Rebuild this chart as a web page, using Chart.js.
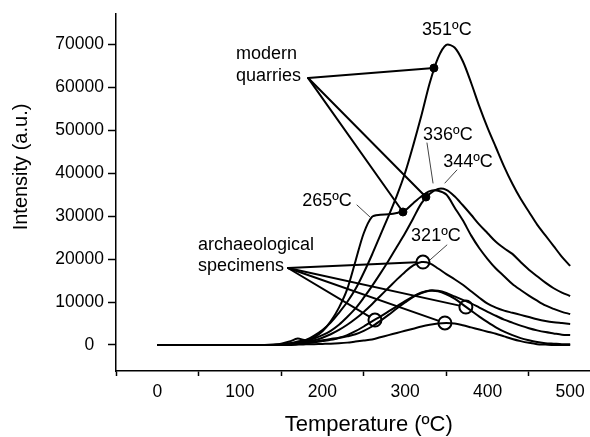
<!DOCTYPE html>
<html><head><meta charset="utf-8">
<script src="https://cdn.jsdelivr.net/npm/chart.js@4.4.1/dist/chart.umd.min.js"></script>
<style>html,body{margin:0;padding:0;background:#fff}canvas{display:block}</style>
</head><body>
<canvas id="c" width="590" height="437"></canvas>
<script>
// ---- data (temperature in ºC, intensity in a.u.) ----
const temps = [0,100,110,120,130,140,150,160,170,180,190,200,210,220,230,240,250,260,270,280,290,300,310,320,330,340,350,360,370,380,390,400,410,420,430,440,450,460,470,480,490,500];
const modern351 = [0,0,0,0,0,0,200,400,800,1200,2200,3500,5200,7500,10000,13000,16800,21000,25500,30000,34700,40000,46500,53500,61000,66800,69800,69200,66000,61000,55500,50500,46000,41500,37500,34000,31000,28000,25500,23000,20500,18400];
const modern344 = [0,0,0,0,0,0,100,300,600,900,1500,2300,3300,4700,6500,8500,11000,13700,16600,19600,22800,26000,29500,33000,35200,36300,36100,34600,32500,30300,28000,26000,24000,22500,21200,19300,17500,16000,14500,13200,12200,11400];
const modern265 = [0,0,0,0,0,100,300,800,1500,1100,1800,3200,5500,8700,13000,19500,26000,29800,30300,30400,30700,31300,33000,34600,35800,35900,35000,32000,29000,25500,22500,20000,17800,16000,14200,12800,11500,10300,9200,8400,7700,7200];
const arch321 = [0,0,0,0,0,0,0,200,400,700,1100,1700,2500,3500,4700,6100,7700,9500,11400,13300,15200,17000,18500,19300,19000,17800,16500,15300,14000,12500,11000,9600,8700,8000,7500,7000,6500,6000,5600,5300,5100,4900];
const archA = [0,0,0,0,0,0,0,100,300,500,800,1100,1400,1700,2300,3200,4300,5500,6600,7800,9000,10200,11300,12200,12700,12600,12100,11300,10500,9700,8700,7700,6800,5900,5200,4500,3900,3400,3000,2700,2400,2300];
const archB = [0,0,0,0,0,0,0,100,200,400,600,900,1200,1600,2000,2500,3300,4300,5600,7000,8500,9900,11200,12100,12600,12500,11800,10800,9400,8000,6600,5300,4100,3100,2300,1600,1100,700,400,300,200,200];
const archC = [0,0,0,0,0,0,0,0,100,150,200,250,300,400,550,800,1050,1300,1800,2300,2800,3300,3800,4300,4700,5000,5100,5000,4600,4100,3600,3100,2600,2000,1400,900,500,200,100,0,0,0];
const modernDots = [[335,64430],[297.5,30940],[325.3,34420]];
const archCircles = [[321.7,19300],[263.6,5800],[373.7,8840],[348.3,5120]];
const xTicks = [-50,0,50,100,150,200,250,300,350,400,450,500];
const xTickLabels = [0,100,200,300,400,500];
const yTickLabels = [0,10000,20000,30000,40000,50000,60000,70000];

// annotation texts placed in data coordinates
const labels = [
  {t:'351ºC', x:350.7, y:73270, a:'center'},
  {t:'modern', x:95.3, y:67690, a:'left'},
  {t:'quarries', x:95.3, y:62570, a:'left'},
  {t:'336ºC', x:351.9, y:48850, a:'center'},
  {t:'344ºC', x:376.2, y:42570, a:'center'},
  {t:'265ºC', x:205.5, y:33490, a:'center'},
  {t:'321ºC', x:337.4, y:25350, a:'center'},
  {t:'archaeological', x:49.3, y:23260, a:'left'},
  {t:'specimens', x:49.3, y:18380, a:'left'}
];
const quarriesAnchor = [182.7, 62100];
const specimensAnchor = [158.2, 17910];
const thinLeaders = [
  [[241.8,32560],[257.6,29770]],
  [[326.6,46990],[333.9,37680]],
  [[362.8,40700],[348.3,37680]],
  [[350.7,23260],[330.1,19770]]
];

const FONT = "'Liberation Sans', Arial, Helvetica, sans-serif";
Chart.defaults.font.family = FONT;
Chart.defaults.color = '#000';

const curves = [modern351, modern344, modern265, arch321, archA, archB, archC];
const datasets = curves.map(arr => ({
  data: temps.map((t,i)=>({x:t, y:arr[i]})),
  borderColor:'#000', borderWidth:2, pointRadius:0, tension:0.3, fill:false
}));
datasets.push({type:'scatter', data: modernDots.map(([x,y])=>({x,y})), pointRadius:4, pointBackgroundColor:'#000', pointBorderColor:'#000', pointBorderWidth:1, showLine:false});
datasets.push({type:'scatter', data: archCircles.map(([x,y])=>({x,y})), pointRadius:6.5, pointBackgroundColor:'rgba(255,255,255,0)', pointBorderColor:'#000', pointBorderWidth:2, showLine:false});

const annot = {
  id:'annot',
  beforeDatasetsDraw(chart){
    const {ctx, scales:{x, y}} = chart;
    const P = p => [x.getPixelForValue(p[0]), y.getPixelForValue(p[1])];
    ctx.save();
    ctx.strokeStyle = '#000'; ctx.lineWidth = 2; ctx.lineCap='round';
    const a1 = P(quarriesAnchor);
    modernDots.forEach(d => { const b = P(d); ctx.beginPath(); ctx.moveTo(a1[0],a1[1]); ctx.lineTo(b[0],b[1]); ctx.stroke(); });
    const a2 = P(specimensAnchor);
    archCircles.forEach(d => { const b = P(d); const dx=b[0]-a2[0], dy=b[1]-a2[1]; const L=Math.hypot(dx,dy); const r=6.5;
      ctx.beginPath(); ctx.moveTo(a2[0],a2[1]); ctx.lineTo(b[0]-dx/L*r, b[1]-dy/L*r); ctx.stroke(); });
    ctx.strokeStyle = '#444'; ctx.lineWidth = 1;
    thinLeaders.forEach(([p,q]) => { const a=P(p), b=P(q); ctx.beginPath(); ctx.moveTo(a[0],a[1]); ctx.lineTo(b[0],b[1]); ctx.stroke(); });
    ctx.restore();
  },
  afterDraw(chart){
    const {ctx, scales:{x, y}} = chart;
    ctx.save();
    ctx.fillStyle = '#000';
    ctx.font = '18px ' + FONT;
    ctx.textBaseline = 'middle';
    labels.forEach(l => { ctx.textAlign = l.a; ctx.fillText(l.t, x.getPixelForValue(l.x), y.getPixelForValue(l.y)); });
    // axis titles
    ctx.font = '22px ' + FONT;
    ctx.textAlign = 'center';
    ctx.fillText('Temperature (ºC)', (x.getPixelForValue(0)+x.getPixelForValue(500))/2 + 5, 425);
    ctx.translate(21, 167);
    ctx.rotate(-Math.PI/2);
    ctx.font = '20px ' + FONT;
    ctx.fillText('Intensity (a.u.)', 0, 0);
    ctx.restore();
  }
};

new Chart(document.getElementById('c'), {
  type:'line',
  data:{datasets},
  options:{
    responsive:false, animation:false,
    layout:{autoPadding:false, padding:{top:14, left:0, right:0, bottom:0}},
    plugins:{legend:{display:false}, tooltip:{enabled:false}},
    scales:{
      x:{
        type:'linear', min:-50, max:524,
        afterBuildTicks: s => { s.ticks = xTicks.map(v => ({value:v})); },
        afterFit: s => { s.height = 66; s.paddingLeft = 0; s.paddingRight = 0; },
        border:{color:'#000', width:1.5},
        grid:{drawOnChartArea:false, drawTicks:true, tickLength:5,
          tickColor: c => (c.tick && xTickLabels.includes(c.tick.value)) ? 'rgba(0,0,0,0)' : '#000', tickWidth:1.5},
        ticks:{autoSkip:false, maxRotation:0, padding:6,
          font:{size:17.5}, color:'#000',
          callback: v => xTickLabels.includes(v) ? String(v) : ''}
      },
      y:{
        type:'linear', min:-6050, max:77000,
        afterBuildTicks: s => { s.ticks = yTickLabels.map(v => ({value:v})); },
        afterFit: s => { s.width = 116; s.paddingTop = 0; s.paddingBottom = 0; },
        border:{color:'#000', width:1.5},
        grid:{drawOnChartArea:false, drawTicks:true, tickLength:8, tickColor:'#000', tickWidth:1.5},
        ticks:{autoSkip:false, padding:4,
          font:{size:17.5}, color:'#000',
          callback: v => v === 0 ? '0  ' : String(v)}
      }
    }
  },
  plugins:[annot]
});
</script>
</body></html>
